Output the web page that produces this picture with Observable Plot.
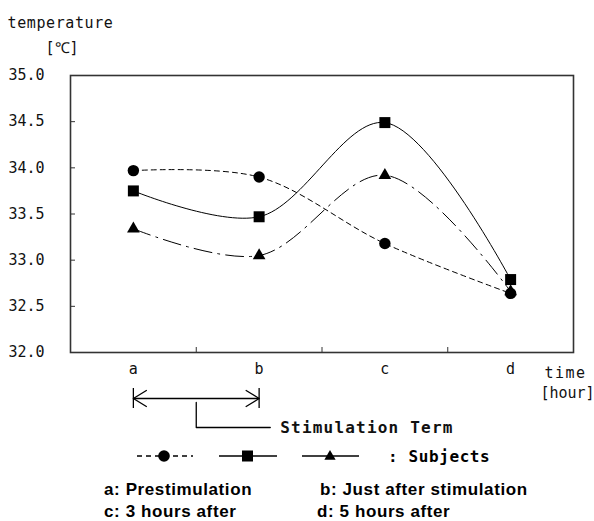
<!DOCTYPE html>
<html>
<head>
<meta charset="utf-8">
<script src="https://cdn.jsdelivr.net/npm/d3@7"></script>
<script src="https://cdn.jsdelivr.net/npm/@observablehq/plot@0.6"></script>
<style>
  html, body { margin: 0; padding: 0; background: #fff; }
  #wrap { position: relative; width: 594px; height: 521px; overflow: hidden; }
  #chart { position: absolute; left: 0; top: 0; }
  .leg { position: absolute; left: 0; top: 446px; }
  .row { position: absolute; font-family: "Liberation Sans", Arial, sans-serif; font-weight: bold; font-size: 17px; letter-spacing: 0.6px; color: #000; white-space: nowrap; line-height: 18px; }
</style>
</head>
<body>
<div id="wrap">
  <div id="chart"></div>
  <svg class="leg" width="594" height="22" id="legend"></svg>
  <div class="row" id="r1a" style="left:104px; top:481px;"></div>
  <div class="row" id="r1b" style="left:320px; top:481px;"></div>
  <div class="row" id="r2a" style="left:104px; top:503px;"></div>
  <div class="row" id="r2b" style="left:317px; top:503px;"></div>
</div>
<script>
// ---- data ----
const categories = ["a", "b", "c", "d"];
const circleSeries   = [33.97, 33.90, 33.18, 32.64];
const squareSeries   = [33.75, 33.47, 34.49, 32.79];
const triangleSeries = [33.34, 33.05, 33.92, 32.66];
const yTicks = [32.0, 32.5, 33.0, 33.5, 34.0, 34.5, 35.0];
const bandBoundaries = [1, 2, 3];
const categoryNotes = ["a: Prestimulation", "b: Just after stimulation", "c: 3 hours after", "d: 5 hours after"];
const yTitle = ["temperature", "[℃]"];
const xTitle = ["time", "[hour]"];
const stimLabel = "Stimulation Term";
const legendLabel = ": Subjects";

// ---- layout ----
const W = 594, H = 440;
const mTop = 75, mBottom = H - 352, mLeft = 70, mRight = 21;
const pxPerY = (352 - mTop) / 3;
const yBelow = px => 32 - px / pxPerY;           // value at px below the x axis
const pxPerX = (W - mLeft - mRight) / 4;
const mono = "'DejaVu Sans Mono', monospace";

function rows(vals) { return categories.map((c, i) => ({cat: c, pos: i + 0.5, v: vals[i]})); }
const rc = rows(circleSeries), rs = rows(squareSeries), rt = rows(triangleSeries);

const aPos = 0.5, bPos = 1.5;
const arrowY = yBelow(46);
const hx = 13 / pxPerX, hy = 8 / pxPerY;
const chevrons = [
  {k: "a", x: aPos + hx, y: arrowY + hy}, {k: "a", x: aPos, y: arrowY}, {k: "a", x: aPos + hx, y: arrowY - hy},
  {k: "b", x: bPos - hx, y: arrowY + hy}, {k: "b", x: bPos, y: arrowY}, {k: "b", x: bPos - hx, y: arrowY - hy}
];
const connector = [
  {x: bandBoundaries[0], y: yBelow(50)},
  {x: bandBoundaries[0], y: yBelow(75)},
  {x: bandBoundaries[0] + 74 / pxPerX, y: yBelow(75)}
];

const chart = Plot.plot({
  width: W, height: H,
  marginTop: mTop, marginBottom: mBottom, marginLeft: mLeft, marginRight: mRight,
  style: {fontFamily: mono, fontSize: "15px", color: "#111", background: "white", overflow: "visible"},
  x: {domain: [0, 4], axis: null},
  y: {domain: [32, 35], axis: null},
  marks: [
    Plot.axisY({ticks: yTicks, tickSize: -5, tickPadding: 31, tickFormat: d => d.toFixed(1), stroke: "#333", fontSize: 15, fontFamily: mono}),
    Plot.axisX({ticks: bandBoundaries, tickSize: -5, tickFormat: () => "", stroke: "#333"}),
    Plot.frame({stroke: "#333", strokeWidth: 1.6}),
    Plot.line(rc, {x: "pos", y: "v", curve: "catmull-rom", stroke: "#000", strokeWidth: 1, strokeDasharray: "5,4"}),
    Plot.line(rs, {x: "pos", y: "v", curve: "catmull-rom", stroke: "#000", strokeWidth: 1}),
    Plot.line(rt, {x: "pos", y: "v", curve: "catmull-rom", stroke: "#000", strokeWidth: 1, strokeDasharray: "18,6,2,6"}),
    Plot.dot(rt, {x: "pos", y: "v", symbol: "triangle", fill: "#000", r: 4.7}),
    Plot.dot(rs, {x: "pos", y: "v", symbol: "square", fill: "#000", r: 6.2}),
    Plot.dot(rc, {x: "pos", y: "v", symbol: "circle", fill: "#000", r: 5.7}),
    // category labels
    Plot.text(rc, {x: "pos", text: "cat", frameAnchor: "bottom", dy: 21, fontSize: 15}),
    // axis titles
    Plot.text([yTitle[0]], {frameAnchor: "top-left", dx: -63, dy: -58, textAnchor: "start", fontSize: 15}),
    Plot.text([yTitle[1]], {frameAnchor: "top-left", dx: -25, dy: -33, textAnchor: "start", fontSize: 15}),
    Plot.text([xTitle[0]], {frameAnchor: "bottom-right", dx: -8, dy: 25, textAnchor: "middle", fontSize: 15}),
    Plot.text([xTitle[1]], {frameAnchor: "bottom-right", dx: -6, dy: 45, textAnchor: "middle", fontSize: 15}),
    // stimulation term annotation
    Plot.ruleX([aPos, bPos], {x: d => d, y1: yBelow(36), y2: yBelow(56), stroke: "#000", strokeWidth: 1.3}),
    Plot.ruleY([arrowY], {x1: aPos, x2: bPos, y: d => d, stroke: "#000", strokeWidth: 1.3}),
    Plot.line(chevrons, {x: "x", y: "y", z: "k", stroke: "#000", strokeWidth: 1.3}),
    Plot.line(connector, {x: "x", y: "y", stroke: "#000", strokeWidth: 1.3}),
    Plot.text([stimLabel], {x: connector[2].x, y: connector[2].y, dx: 10, textAnchor: "start", fontWeight: "bold", fontSize: 16, fontFamily: mono})
  ]
});
chart.querySelectorAll("text").forEach(t => {
  if (t.textContent === stimLabel) t.setAttribute("letter-spacing", "1.2");
  if (t.textContent === yTitle[0]) t.setAttribute("letter-spacing", "0.6");
  if (t.textContent === xTitle[0]) t.setAttribute("letter-spacing", "1.5");
});
document.getElementById("chart").appendChild(chart);

// ---- legend ----
const leg = d3.select("#legend");
const cy = 10;
leg.append("line").attr("x1", 137).attr("x2", 193).attr("y1", cy).attr("y2", cy).attr("stroke", "#000").attr("stroke-width", 1.3).attr("stroke-dasharray", "5,4");
leg.append("circle").attr("cx", 164).attr("cy", cy).attr("r", 5.8);
leg.append("line").attr("x1", 219).attr("x2", 277).attr("y1", cy).attr("y2", cy).attr("stroke", "#000").attr("stroke-width", 1.3);
leg.append("rect").attr("x", 242).attr("y", cy - 5.5).attr("width", 11).attr("height", 11);
leg.append("line").attr("x1", 302).attr("x2", 359).attr("y1", cy).attr("y2", cy).attr("stroke", "#000").attr("stroke-width", 1.3);
leg.append("path").attr("d", d3.symbol(d3.symbolTriangle, 55)()).attr("transform", `translate(330,${cy + 0.5})`);
leg.append("text").attr("x", 388).attr("y", cy + 5.5).attr("font-family", mono).attr("font-weight", "bold").attr("font-size", 16).attr("letter-spacing", 0.6).text(legendLabel);

document.getElementById("r1a").textContent = categoryNotes[0];
document.getElementById("r1b").textContent = categoryNotes[1];
document.getElementById("r2a").textContent = categoryNotes[2];
document.getElementById("r2b").textContent = categoryNotes[3];
</script>
</body>
</html>
